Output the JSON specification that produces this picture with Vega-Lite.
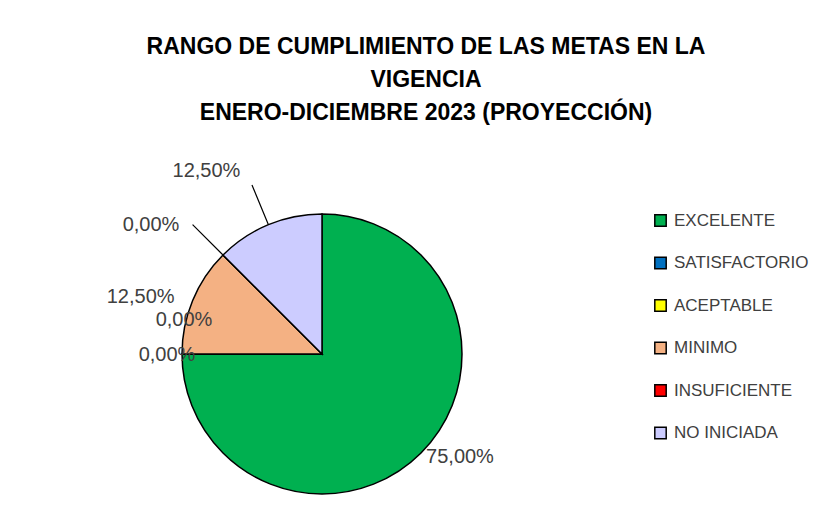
{
  "$schema": "https://vega.github.io/schema/vega-lite/v6.json",
  "width": 300,
  "height": 300,
  "autosize": {"type": "none"},
  "padding": {"left": 172, "top": 204, "right": 358, "bottom": 20},
  "background": "white",
  "config": {
    "view": {"stroke": null},
    "locale": {"number": {"decimal": ",", "thousands": ".", "grouping": [3], "currency": ["", " €"]}}
  },
  "title": {
    "text": ["RANGO DE CUMPLIMIENTO DE LAS METAS EN LA", "VIGENCIA", "ENERO-DICIEMBRE 2023 (PROYECCIÓN)"],
    "font": "Liberation Sans",
    "fontSize": 23,
    "fontWeight": "bold",
    "color": "#000000",
    "lineHeight": 33,
    "anchor": "middle",
    "dx": 104,
    "offset": 36
  },
  "data": {"values": [
    {"categoria": "EXCELENTE", "valor": 0.75, "orden": 1},
    {"categoria": "SATISFACTORIO", "valor": 0.0, "orden": 2},
    {"categoria": "ACEPTABLE", "valor": 0.0, "orden": 3},
    {"categoria": "MINIMO", "valor": 0.125, "orden": 4},
    {"categoria": "INSUFICIENTE", "valor": 0.0, "orden": 5},
    {"categoria": "NO INICIADA", "valor": 0.125, "orden": 6}
  ]},
  "transform": [
    {"window": [{"op": "sum", "field": "valor", "as": "acum"}], "sort": [{"field": "orden", "order": "ascending"}], "frame": [null, 0]},
    {"calculate": "datum.acum - datum.valor / 2", "as": "medio"}
  ],
  "layer": [
    {
      "mark": {"type": "arc", "radius": 140, "stroke": "#000000", "strokeWidth": 1.5},
      "encoding": {
        "theta": {"field": "valor", "type": "quantitative", "stack": true, "scale": {"domain": [0, 1]}},
        "order": {"field": "orden", "type": "quantitative"},
        "color": {
          "field": "categoria",
          "type": "nominal",
          "scale": {
            "domain": ["EXCELENTE", "SATISFACTORIO", "ACEPTABLE", "MINIMO", "INSUFICIENTE", "NO INICIADA"],
            "range": ["#00B050", "#0070C0", "#FFFF00", "#F4B183", "#FF0000", "#CCCCFF"]
          },
          "legend": {
            "title": null,
            "orient": "none",
            "legendX": 480,
            "legendY": 8,
            "padding": 0,
            "symbolType": "square",
            "symbolSize": 130,
            "symbolStrokeColor": "#000000",
            "symbolStrokeWidth": 1.5,
            "symbolOpacity": 1,
            "labelFont": "Liberation Sans",
            "labelFontSize": 17,
            "labelColor": "#404040",
            "labelOffset": 5,
            "rowPadding": 23.5,
            "labelLimit": 300
          }
        }
      }
    },
    {
      "transform": [{"filter": "datum.categoria == 'NO INICIADA' || datum.categoria == 'INSUFICIENTE'"}],
      "mark": {"type": "arc", "radius": 183, "radius2": 140, "stroke": "#000000", "strokeWidth": 1.2, "fill": null},
      "encoding": {
        "theta": {"field": "medio", "type": "quantitative", "stack": null},
        "theta2": {"field": "medio"}
      }
    },
    {
      "transform": [{"filter": "datum.categoria == 'EXCELENTE'"}],
      "mark": {"type": "text", "radius": 140, "dx": 39, "dy": 4, "font": "Liberation Sans", "fontSize": 20, "fill": "#404040", "align": "center", "baseline": "middle"},
      "encoding": {"theta": {"field": "medio", "type": "quantitative", "stack": null}, "text": {"field": "valor", "type": "quantitative", "format": ".2%"}}
    },
    {
      "transform": [{"filter": "datum.categoria == 'SATISFACTORIO'"}],
      "mark": {"type": "text", "radius": 140, "dx": -15, "dy": 1, "font": "Liberation Sans", "fontSize": 20, "fill": "#404040", "align": "center", "baseline": "middle"},
      "encoding": {"theta": {"field": "medio", "type": "quantitative", "stack": null}, "text": {"field": "valor", "type": "quantitative", "format": ".2%"}}
    },
    {
      "transform": [{"filter": "datum.categoria == 'ACEPTABLE'"}],
      "mark": {"type": "text", "radius": 140, "dx": 2, "dy": -34, "font": "Liberation Sans", "fontSize": 20, "fill": "#404040", "align": "center", "baseline": "middle"},
      "encoding": {"theta": {"field": "medio", "type": "quantitative", "stack": null}, "text": {"field": "valor", "type": "quantitative", "format": ".2%"}}
    },
    {
      "transform": [{"filter": "datum.categoria == 'MINIMO'"}],
      "mark": {"type": "text", "radius": 140, "dx": -52, "dy": -3, "font": "Liberation Sans", "fontSize": 20, "fill": "#404040", "align": "center", "baseline": "middle"},
      "encoding": {"theta": {"field": "medio", "type": "quantitative", "stack": null}, "text": {"field": "valor", "type": "quantitative", "format": ".2%"}}
    },
    {
      "transform": [{"filter": "datum.categoria == 'INSUFICIENTE'"}],
      "mark": {"type": "text", "radius": 140, "dx": -72, "dy": -30, "font": "Liberation Sans", "fontSize": 20, "fill": "#404040", "align": "center", "baseline": "middle"},
      "encoding": {"theta": {"field": "medio", "type": "quantitative", "stack": null}, "text": {"field": "valor", "type": "quantitative", "format": ".2%"}}
    },
    {
      "transform": [{"filter": "datum.categoria == 'NO INICIADA'"}],
      "mark": {"type": "text", "radius": 140, "dx": -62, "dy": -54, "font": "Liberation Sans", "fontSize": 20, "fill": "#404040", "align": "center", "baseline": "middle"},
      "encoding": {"theta": {"field": "medio", "type": "quantitative", "stack": null}, "text": {"field": "valor", "type": "quantitative", "format": ".2%"}}
    }
  ]
}
